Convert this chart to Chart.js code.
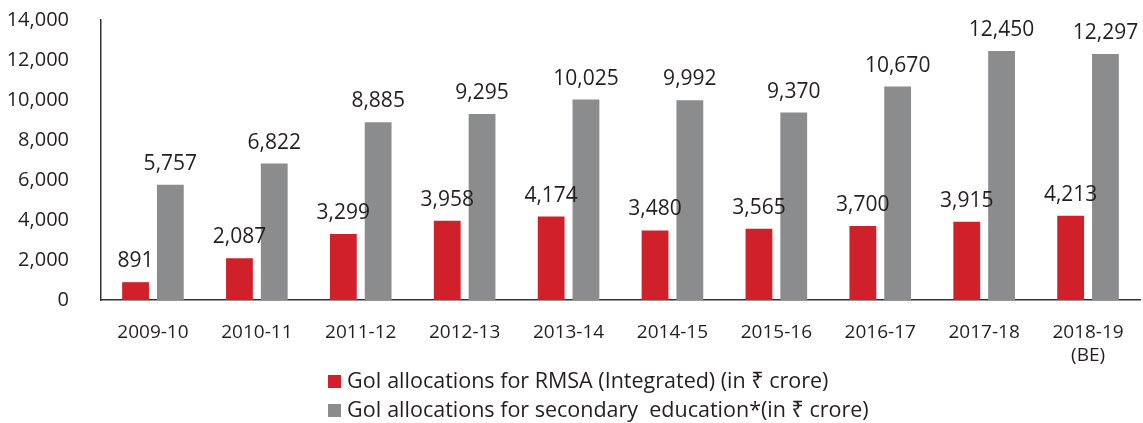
<!DOCTYPE html>
<html>
<head>
<meta charset="utf-8">
<script src="https://cdn.jsdelivr.net/npm/chart.js@4"></script>
<style>
  html, body { margin: 0; padding: 0; background: #fff; }
  #wrap { width: 1143px; height: 423px; position: relative; }
</style>
</head>
<body>
<div id="wrap"><canvas id="chart"></canvas></div>
<script>
// Chart data
const years = ['2009-10', '2010-11', '2011-12', '2012-13', '2013-14', '2014-15',
               '2015-16', '2016-17', '2017-18', ['2018-19', '(BE)']];
const rmsaValues = [891, 2087, 3299, 3958, 4174, 3480, 3565, 3700, 3915, 4213];
const secondaryValues = [5757, 6822, 8885, 9295, 10025, 9992, 9370, 10670, 12450, 12297];
const rmsaLabel = 'GoI allocations for RMSA (Integrated) (in ₹ crore)';
const secondaryLabel = 'GoI allocations for secondary  education*(in ₹ crore)';
const yTicks = [0, 2000, 4000, 6000, 8000, 10000, 12000, 14000];

const FONT = "'Open Sans', 'Noto Sans', sans-serif";
const TEXT = '#231f20';

// value labels above each bar
const valueLabels = {
    id: 'valueLabels',
    afterDatasetsDraw(chart) {
        const ctx = chart.ctx;
        ctx.save();
        ctx.font = '21px ' + FONT;
        ctx.fillStyle = TEXT;
        ctx.textAlign = 'center';
        ctx.textBaseline = 'alphabetic';
        chart.data.datasets.forEach((ds, i) => {
            chart.getDatasetMeta(i).data.forEach((bar, j) => {
                ctx.fillText(ds.data[j].toLocaleString('en-US'), bar.x, bar.y - 15);
            });
        });
        ctx.restore();
    }
};

// stacked legend under the axis
const stackedLegend = {
    id: 'stackedLegend',
    afterDraw(chart) {
        const ctx = chart.ctx;
        ctx.save();
        ctx.font = '21.5px ' + FONT;
        ctx.textBaseline = 'middle';
        ctx.textAlign = 'left';
        chart.data.datasets.forEach((ds, i) => {
            const y = 382 + i * 29;
            ctx.fillStyle = ds.backgroundColor;
            ctx.fillRect(328, y - 7, 13, 13);
            ctx.fillStyle = TEXT;
            ctx.fillText(ds.label, 347, y);
        });
        ctx.restore();
    }
};

const ctx = document.getElementById('chart').getContext('2d');
const chart = new Chart(ctx, {
    type: 'bar',
    data: {
        labels: years,
        datasets: [{
            label: rmsaLabel,
            data: rmsaValues,
            backgroundColor: '#d0202a',
            categoryPercentage: 0.67,
            barPercentage: 0.77
        }, {
            label: secondaryLabel,
            data: secondaryValues,
            backgroundColor: '#8b8c8e',
            categoryPercentage: 0.67,
            barPercentage: 0.77
        }]
    },
    options: {
        responsive: true,
        maintainAspectRatio: false,
        animation: false,
        layout: { padding: { top: 20, right: 3, left: 0, bottom: 0 } },
        plugins: {
            legend: { display: false },
            tooltip: { enabled: false }
        },
        scales: {
            x: {
                grid: { display: false },
                border: { display: true, color: '#333', width: 1.5 },
                ticks: {
                    color: TEXT,
                    font: { family: FONT, size: 19 },
                    padding: 13,
                    maxRotation: 0,
                    autoSkip: false
                },
                afterFit(scale) { scale.height = 123; }
            },
            y: {
                min: 0,
                max: 14000,
                afterBuildTicks(scale) { scale.ticks = yTicks.map(v => ({ value: v })); },
                grid: { display: false },
                border: { display: true, color: '#333', width: 1.5 },
                ticks: {
                    color: TEXT,
                    font: { family: FONT, size: 20 },
                    padding: 24,
                    callback: v => v.toLocaleString('en-US')
                },
                afterFit(scale) {
                    scale.width = 101;
                    scale.paddingTop = 0;
                    scale.paddingBottom = 0;
                }
            }
        }
    },
    plugins: [valueLabels, stackedLegend]
});
</script>
</body>
</html>
